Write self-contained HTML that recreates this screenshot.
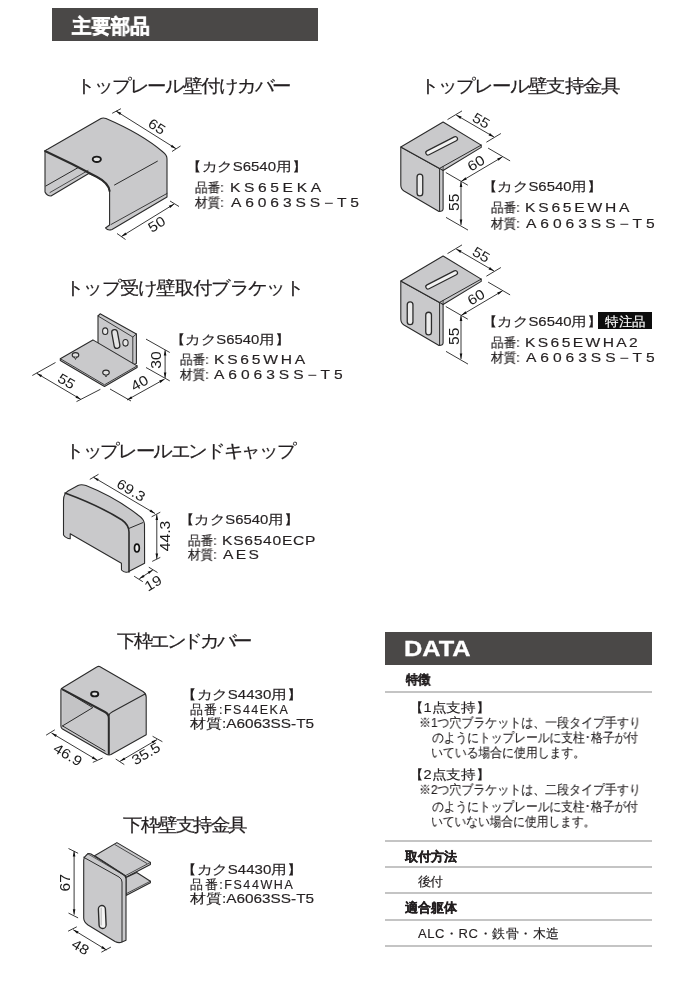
<!DOCTYPE html>
<html lang="ja">
<head>
<meta charset="utf-8">
<style>
html,body{margin:0;padding:0;background:#fff;}
body{width:690px;height:987px;position:relative;overflow:hidden;font-family:"Liberation Sans",sans-serif;color:#231f20;}
.a{position:absolute;white-space:nowrap;line-height:1;}
.bar{position:absolute;background:#4a4847;}
.ttl{font-size:17.5px;color:#231f20;}
.sp{font-size:13px;}
.ls{letter-spacing:3.2px;}
.hr{position:absolute;left:385px;width:267px;height:2px;background:#c4c4c4;}
svg{position:absolute;left:0;top:0;}
.a,svg{will-change:transform;}
svg text{font-family:"Liberation Sans",sans-serif;}
</style>
</head>
<body>
<div class="bar" style="left:52px;top:8px;width:266px;height:33px;"></div>
<div class="bar" style="left:385px;top:632px;width:267px;height:33px;"></div>
<div class="bar" style="left:598px;top:312px;width:54px;height:17px;background:#0d0d0d;"></div>
<div class="hr" style="top:691px;"></div>
<div class="hr" style="top:839.5px;"></div>
<div class="hr" style="top:865.7px;"></div>
<div class="hr" style="top:892.2px;"></div>
<div class="hr" style="top:918.6px;"></div>
<div class="hr" style="top:945px;"></div>
<div class="a" style="left:71.5px;top:16.4px;font-size:20px;font-weight:bold;color:#fff;letter-spacing:0.00px;transform:scaleX(0.9725);transform-origin:0 0;-webkit-text-stroke:0.6px #fff;">主要部品</div>
<div class="a" style="left:75.7px;top:78.2px;font-size:17.5px;font-weight:normal;color:#231f20;letter-spacing:-1.47px;transform:scaleX(1.0800);transform-origin:0 0;-webkit-text-stroke:0.2px #231f20;">トップレール壁付けカバー</div>
<div class="a" style="left:420.2px;top:78.2px;font-size:17.5px;font-weight:normal;color:#231f20;letter-spacing:-1.27px;transform:scaleX(1.0800);transform-origin:0 0;-webkit-text-stroke:0.2px #231f20;">トップレール壁支持金具</div>
<div class="a" style="left:65.0px;top:279.5px;font-size:17.5px;font-weight:normal;color:#231f20;letter-spacing:-1.06px;transform:scaleX(1.0800);transform-origin:0 0;-webkit-text-stroke:0.2px #231f20;">トップ受け壁取付ブラケット</div>
<div class="a" style="left:65.0px;top:442.6px;font-size:17.5px;font-weight:normal;color:#231f20;letter-spacing:-1.68px;transform:scaleX(1.0800);transform-origin:0 0;-webkit-text-stroke:0.2px #231f20;">トップレールエンドキャップ</div>
<div class="a" style="left:116.5px;top:632.6px;font-size:17.5px;font-weight:normal;color:#231f20;letter-spacing:-2.64px;transform:scaleX(1.0800);transform-origin:0 0;-webkit-text-stroke:0.2px #231f20;">下枠エンドカバー</div>
<div class="a" style="left:122.6px;top:817.0px;font-size:17.5px;font-weight:normal;color:#231f20;letter-spacing:-1.73px;transform:scaleX(1.0800);transform-origin:0 0;-webkit-text-stroke:0.2px #231f20;">下枠壁支持金具</div>
<div class="a" style="left:185.8px;top:160.9px;font-size:12.5px;font-weight:normal;color:#231f20;letter-spacing:0.00px;transform:scaleX(1.1976);transform-origin:0 0;-webkit-text-stroke:0.15px #231f20;">【カクS6540用】</div>
<div class="a" style="left:195.4px;top:181.8px;font-size:12.5px;font-weight:normal;color:#231f20;letter-spacing:0.00px;transform:scaleX(0.9724);transform-origin:0 0;-webkit-text-stroke:0.2px #231f20;">品番:</div>
<div class="a" style="left:230.1px;top:181.8px;font-size:12px;font-weight:normal;color:#231f20;letter-spacing:2.78px;transform:scaleX(1.3000);transform-origin:0 0;-webkit-text-stroke:0.15px #231f20;">KS65EKA</div>
<div class="a" style="left:195.4px;top:196.7px;font-size:12.5px;font-weight:normal;color:#231f20;letter-spacing:0.00px;transform:scaleX(0.9724);transform-origin:0 0;-webkit-text-stroke:0.2px #231f20;">材質:</div>
<div class="a" style="left:230.7px;top:196.7px;font-size:12px;font-weight:normal;color:#231f20;letter-spacing:2.97px;transform:scaleX(1.3000);transform-origin:0 0;-webkit-text-stroke:0.15px #231f20;">A6063SS−T5</div>
<div class="a" style="left:481.5px;top:181.4px;font-size:12.5px;font-weight:normal;color:#231f20;letter-spacing:0.00px;transform:scaleX(1.1906);transform-origin:0 0;-webkit-text-stroke:0.15px #231f20;">【カクS6540用】</div>
<div class="a" style="left:491.0px;top:202.3px;font-size:12.5px;font-weight:normal;color:#231f20;letter-spacing:0.00px;transform:scaleX(0.9724);transform-origin:0 0;-webkit-text-stroke:0.2px #231f20;">品番:</div>
<div class="a" style="left:525.1px;top:202.3px;font-size:12px;font-weight:normal;color:#231f20;letter-spacing:2.15px;transform:scaleX(1.3000);transform-origin:0 0;-webkit-text-stroke:0.15px #231f20;">KS65EWHA</div>
<div class="a" style="left:491.0px;top:218.0px;font-size:12.5px;font-weight:normal;color:#231f20;letter-spacing:0.00px;transform:scaleX(0.9724);transform-origin:0 0;-webkit-text-stroke:0.2px #231f20;">材質:</div>
<div class="a" style="left:525.7px;top:218.0px;font-size:12px;font-weight:normal;color:#231f20;letter-spacing:3.03px;transform:scaleX(1.3000);transform-origin:0 0;-webkit-text-stroke:0.15px #231f20;">A6063SS−T5</div>
<div class="a" style="left:481.5px;top:316.4px;font-size:12.5px;font-weight:normal;color:#231f20;letter-spacing:0.00px;transform:scaleX(1.1906);transform-origin:0 0;-webkit-text-stroke:0.15px #231f20;">【カクS6540用】</div>
<div class="a" style="left:605.1px;top:315.6px;font-size:12.5px;font-weight:normal;color:#fff;letter-spacing:0.00px;transform:scaleX(1.0395);transform-origin:0 0;-webkit-text-stroke:0.15px #fff;">特注品</div>
<div class="a" style="left:491.0px;top:336.8px;font-size:12.5px;font-weight:normal;color:#231f20;letter-spacing:0.00px;transform:scaleX(0.9724);transform-origin:0 0;-webkit-text-stroke:0.2px #231f20;">品番:</div>
<div class="a" style="left:525.1px;top:336.8px;font-size:12px;font-weight:normal;color:#231f20;letter-spacing:1.84px;transform:scaleX(1.3000);transform-origin:0 0;-webkit-text-stroke:0.15px #231f20;">KS65EWHA2</div>
<div class="a" style="left:491.0px;top:352.4px;font-size:12.5px;font-weight:normal;color:#231f20;letter-spacing:0.00px;transform:scaleX(0.9724);transform-origin:0 0;-webkit-text-stroke:0.2px #231f20;">材質:</div>
<div class="a" style="left:525.7px;top:352.4px;font-size:12px;font-weight:normal;color:#231f20;letter-spacing:3.03px;transform:scaleX(1.3000);transform-origin:0 0;-webkit-text-stroke:0.15px #231f20;">A6063SS−T5</div>
<div class="a" style="left:170.4px;top:333.5px;font-size:12.5px;font-weight:normal;color:#231f20;letter-spacing:0.00px;transform:scaleX(1.1882);transform-origin:0 0;-webkit-text-stroke:0.15px #231f20;">【カクS6540用】</div>
<div class="a" style="left:179.9px;top:353.6px;font-size:12.5px;font-weight:normal;color:#231f20;letter-spacing:0.00px;transform:scaleX(0.9724);transform-origin:0 0;-webkit-text-stroke:0.2px #231f20;">品番:</div>
<div class="a" style="left:213.6px;top:353.6px;font-size:12px;font-weight:normal;color:#231f20;letter-spacing:2.14px;transform:scaleX(1.3000);transform-origin:0 0;-webkit-text-stroke:0.15px #231f20;">KS65WHA</div>
<div class="a" style="left:179.9px;top:369.3px;font-size:12.5px;font-weight:normal;color:#231f20;letter-spacing:0.00px;transform:scaleX(0.9724);transform-origin:0 0;-webkit-text-stroke:0.2px #231f20;">材質:</div>
<div class="a" style="left:214.4px;top:369.3px;font-size:12px;font-weight:normal;color:#231f20;letter-spacing:3.03px;transform:scaleX(1.3000);transform-origin:0 0;-webkit-text-stroke:0.15px #231f20;">A6063SS−T5</div>
<div class="a" style="left:178.6px;top:513.8px;font-size:12.5px;font-weight:normal;color:#231f20;letter-spacing:0.00px;transform:scaleX(1.1871);transform-origin:0 0;-webkit-text-stroke:0.15px #231f20;">【カクS6540用】</div>
<div class="a" style="left:188.1px;top:534.6px;font-size:12.5px;font-weight:normal;color:#231f20;letter-spacing:0.00px;transform:scaleX(0.9724);transform-origin:0 0;-webkit-text-stroke:0.2px #231f20;">品番:</div>
<div class="a" style="left:221.6px;top:534.6px;font-size:12px;font-weight:normal;color:#231f20;letter-spacing:0.56px;transform:scaleX(1.3000);transform-origin:0 0;-webkit-text-stroke:0.15px #231f20;">KS6540ECP</div>
<div class="a" style="left:188.1px;top:548.5px;font-size:12.5px;font-weight:normal;color:#231f20;letter-spacing:0.00px;transform:scaleX(0.9724);transform-origin:0 0;-webkit-text-stroke:0.2px #231f20;">材質:</div>
<div class="a" style="left:222.9px;top:548.5px;font-size:12px;font-weight:normal;color:#231f20;letter-spacing:1.81px;transform:scaleX(1.3000);transform-origin:0 0;-webkit-text-stroke:0.15px #231f20;">AES</div>
<div class="a" style="left:180.8px;top:688.8px;font-size:12.5px;font-weight:normal;color:#231f20;letter-spacing:0.00px;transform:scaleX(1.2012);transform-origin:0 0;-webkit-text-stroke:0.15px #231f20;">【カクS4430用】</div>
<div class="a" style="left:190.4px;top:703.8px;font-size:12.5px;font-weight:normal;color:#231f20;letter-spacing:1.49px;-webkit-text-stroke:0.15px #231f20;">品番:FS44EKA</div>
<div class="a" style="left:190.4px;top:717.7px;font-size:12.5px;font-weight:normal;color:#231f20;letter-spacing:0.00px;transform:scaleX(1.2287);transform-origin:0 0;-webkit-text-stroke:0.15px #231f20;">材質:A6063SS-T5</div>
<div class="a" style="left:180.8px;top:863.8px;font-size:12.5px;font-weight:normal;color:#231f20;letter-spacing:0.00px;transform:scaleX(1.2012);transform-origin:0 0;-webkit-text-stroke:0.15px #231f20;">【カクS4430用】</div>
<div class="a" style="left:190.4px;top:878.8px;font-size:12.5px;font-weight:normal;color:#231f20;letter-spacing:1.58px;-webkit-text-stroke:0.15px #231f20;">品番:FS44WHA</div>
<div class="a" style="left:190.4px;top:892.7px;font-size:12.5px;font-weight:normal;color:#231f20;letter-spacing:0.00px;transform:scaleX(1.2287);transform-origin:0 0;-webkit-text-stroke:0.15px #231f20;">材質:A6063SS-T5</div>
<div class="a" style="left:404.2px;top:637.9px;font-size:22px;font-weight:bold;color:#fff;letter-spacing:0.00px;transform:scaleX(1.1526);transform-origin:0 0;-webkit-text-stroke:0.3px #fff;">DATA</div>
<div class="a" style="left:406.0px;top:672.8px;font-size:13px;font-weight:bold;color:#231f20;letter-spacing:0.00px;transform:scaleX(0.9407);transform-origin:0 0;-webkit-text-stroke:0.3px #231f20;">特徴</div>
<div class="a" style="left:409.1px;top:700.5px;font-size:13px;font-weight:normal;color:#231f20;letter-spacing:0.00px;transform:scaleX(1.1232);transform-origin:0 0;-webkit-text-stroke:0.15px #231f20;">【1点支持】</div>
<div class="a" style="left:418.9px;top:715.6px;font-size:13px;font-weight:normal;color:#231f20;letter-spacing:0.00px;transform:scaleX(0.9212);transform-origin:0 0;-webkit-text-stroke:0.15px #231f20;">※1つ穴ブラケットは、一段タイプ手すり</div>
<div class="a" style="left:432.0px;top:730.7px;font-size:13px;font-weight:normal;color:#231f20;letter-spacing:0.00px;transform:scaleX(0.9039);transform-origin:0 0;-webkit-text-stroke:0.15px #231f20;">のようにトップレールに支柱･格子が付</div>
<div class="a" style="left:431.1px;top:745.8px;font-size:13px;font-weight:normal;color:#231f20;letter-spacing:0.00px;transform:scaleX(0.9119);transform-origin:0 0;-webkit-text-stroke:0.15px #231f20;">いている場合に使用します。</div>
<div class="a" style="left:409.1px;top:767.5px;font-size:13px;font-weight:normal;color:#231f20;letter-spacing:0.00px;transform:scaleX(1.1232);transform-origin:0 0;-webkit-text-stroke:0.15px #231f20;">【2点支持】</div>
<div class="a" style="left:418.9px;top:783.4px;font-size:13px;font-weight:normal;color:#231f20;letter-spacing:0.00px;transform:scaleX(0.9208);transform-origin:0 0;-webkit-text-stroke:0.15px #231f20;">※2つ穴ブラケットは、二段タイプ手すり</div>
<div class="a" style="left:432.0px;top:799.6px;font-size:13px;font-weight:normal;color:#231f20;letter-spacing:0.00px;transform:scaleX(0.9035);transform-origin:0 0;-webkit-text-stroke:0.15px #231f20;">のようにトップレールに支柱･格子が付</div>
<div class="a" style="left:431.1px;top:814.6px;font-size:13px;font-weight:normal;color:#231f20;letter-spacing:0.00px;transform:scaleX(0.9029);transform-origin:0 0;-webkit-text-stroke:0.15px #231f20;">いていない場合に使用します。</div>
<div class="a" style="left:404.9px;top:849.5px;font-size:13px;font-weight:bold;color:#231f20;letter-spacing:0.00px;transform:scaleX(1.0019);transform-origin:0 0;-webkit-text-stroke:0.3px #231f20;">取付方法</div>
<div class="a" style="left:418.4px;top:875.9px;font-size:12.5px;font-weight:normal;color:#231f20;letter-spacing:-1.40px;-webkit-text-stroke:0.15px #231f20;">後付</div>
<div class="a" style="left:404.9px;top:901.0px;font-size:13px;font-weight:bold;color:#231f20;letter-spacing:0.00px;transform:scaleX(1.0019);transform-origin:0 0;-webkit-text-stroke:0.3px #231f20;">適合躯体</div>
<div class="a" style="left:418.4px;top:927.4px;font-size:13px;font-weight:normal;color:#231f20;letter-spacing:0.58px;-webkit-text-stroke:0.15px #231f20;">ALC・RC・鉄骨・木造</div>

<svg width="690" height="987" viewBox="0 0 690 987">
<path d="M45,152 Q45,150 48,149 L101,118.5 Q103,117.5 106,118.5 Q142,134 163,152 Q167,155 167,159 L167,194 L167,197 L112,229.5 Q108,231 105.5,228 L109.6,225 L109.6,191 Q108.5,183 97,177 L88.7,173.5 L51,196 Q47,196 45,192 Z" fill="#c9c9cb" stroke="#2b2b2b" stroke-width="1.1" stroke-linejoin="round"/>
<path d="M45,151 Q72,163.5 97,177 Q108.5,183 109.6,191" fill="none" stroke="#2b2b2b" stroke-width="2.0" stroke-linecap="round" stroke-linejoin="round"/>
<path d="M45.8,186 L78.3,167.5" fill="none" stroke="#2b2b2b" stroke-width="1.0" stroke-linecap="round" stroke-linejoin="round"/>
<path d="M50,192.5 L88,170.5" fill="none" stroke="#2b2b2b" stroke-width="0.8" stroke-linecap="round" stroke-linejoin="round"/>
<path d="M114.5,185 L157.4,161.2" fill="none" stroke="#2b2b2b" stroke-width="1.0" stroke-linecap="round" stroke-linejoin="round"/>
<path d="M111,224.5 L167,193.5" fill="none" stroke="#2b2b2b" stroke-width="0.9" stroke-linecap="round" stroke-linejoin="round"/>
<ellipse cx="96.8" cy="159.3" rx="4.1" ry="2.7" fill="#e6e6e6" stroke="#1a1a1a" stroke-width="1.9"/>
<line x1="116" y1="111" x2="176" y2="148.7" stroke="#222" stroke-width="0.9"/>
<path d="M116.0,111.0 L121.3,112.8 L120.0,115.0 Z" fill="#111"/>
<path d="M176.0,148.7 L170.7,146.9 L172.0,144.7 Z" fill="#111"/>
<line x1="112.2" y1="113.3" x2="120.9" y2="108.7" stroke="#222" stroke-width="0.9"/>
<line x1="172" y1="151.5" x2="180.5" y2="146" stroke="#222" stroke-width="0.9"/>
<text x="0" y="0" transform="translate(156.8 126.7) rotate(32.1) scale(1.12 1)" font-size="14" text-anchor="middle" dominant-baseline="central" fill="#1a1a1a">65</text>
<line x1="121.4" y1="236.5" x2="174.2" y2="204" stroke="#222" stroke-width="0.9"/>
<path d="M121.4,236.5 L125.4,232.5 L126.8,234.7 Z" fill="#111"/>
<path d="M174.2,204.0 L170.2,208.0 L168.8,205.8 Z" fill="#111"/>
<line x1="117" y1="233.5" x2="125.5" y2="239.5" stroke="#222" stroke-width="0.9"/>
<line x1="170" y1="201" x2="179" y2="206.5" stroke="#222" stroke-width="0.9"/>
<text x="0" y="0" transform="translate(156.8 224.3) rotate(-31.6) scale(1.12 1)" font-size="14" text-anchor="middle" dominant-baseline="central" fill="#1a1a1a">50</text>
<path d="M400.8,147 L439.6,168.4 L443.1,166.5 L443.1,209 Q443,211.5 439,211.5 L404,191 Q400.8,189 400.8,185 Z" fill="#c9c9cb" stroke="#2b2b2b" stroke-width="1.1" stroke-linejoin="round"/>
<path d="M439.6,168.4 L439.6,211" fill="none" stroke="#2b2b2b" stroke-width="1.0" stroke-linecap="round" stroke-linejoin="round"/>
<path d="M400.8,147 L443.1,122 L481.2,145.1 L481.2,147.4 L443.1,170.5 L439.6,168.4 Z" fill="#c9c9cb" stroke="#2b2b2b" stroke-width="1.1" stroke-linejoin="round"/>
<path d="M439.6,168.4 L481.2,145.1" fill="none" stroke="#2b2b2b" stroke-width="1.0" stroke-linecap="round" stroke-linejoin="round"/>
<path d="M443.1,170.5 L443.1,166.5" fill="none" stroke="#2b2b2b" stroke-width="0.8" stroke-linecap="round" stroke-linejoin="round"/>
<path d="M428,152.8 L455.3,138.8" stroke="#2b2b2b" stroke-width="5.6" stroke-linecap="round"/>
<path d="M428,152.8 L455.3,138.8" stroke="#f2f2f2" stroke-width="3.2" stroke-linecap="round"/>
<path d="M419.9,177 L419.9,193" stroke="#2b2b2b" stroke-width="7" stroke-linecap="round"/>
<path d="M419.9,177 L419.9,193" stroke="#ececec" stroke-width="4.4" stroke-linecap="round"/>
<line x1="456.2" y1="115" x2="494" y2="137" stroke="#222" stroke-width="0.9"/>
<path d="M456.2,115.0 L461.6,116.6 L460.3,118.9 Z" fill="#111"/>
<path d="M494.0,137.0 L488.6,135.4 L489.9,133.1 Z" fill="#111"/>
<line x1="447.5" y1="119.6" x2="462" y2="110.9" stroke="#222" stroke-width="0.9"/>
<line x1="486.4" y1="142.2" x2="500.9" y2="133.5" stroke="#222" stroke-width="0.9"/>
<text x="0" y="0" transform="translate(481.2 120.7) rotate(30.2) scale(1.12 1)" font-size="14" text-anchor="middle" dominant-baseline="central" fill="#1a1a1a">55</text>
<line x1="461.4" y1="181.2" x2="502.6" y2="156.8" stroke="#222" stroke-width="0.9"/>
<path d="M461.4,181.2 L465.5,177.3 L466.8,179.5 Z" fill="#111"/>
<path d="M502.6,156.8 L498.5,160.7 L497.2,158.5 Z" fill="#111"/>
<line x1="488.1" y1="148.1" x2="510.1" y2="160.9" stroke="#222" stroke-width="0.9"/>
<line x1="445.8" y1="172.5" x2="467.8" y2="185.2" stroke="#222" stroke-width="0.9"/>
<text x="0" y="0" transform="translate(476 163.2) rotate(-30.6) scale(1.12 1)" font-size="14" text-anchor="middle" dominant-baseline="central" fill="#1a1a1a">60</text>
<line x1="461" y1="181.4" x2="461" y2="225" stroke="#222" stroke-width="0.9"/>
<path d="M461.0,181.4 L462.3,186.9 L459.7,186.9 Z" fill="#111"/>
<path d="M461.0,225.0 L459.7,219.5 L462.3,219.5 Z" fill="#111"/>
<line x1="446" y1="217.4" x2="468" y2="230.1" stroke="#222" stroke-width="0.9"/>
<text x="0" y="0" transform="translate(454.1 202.3) rotate(-90) scale(1.12 1)" font-size="14" text-anchor="middle" dominant-baseline="central" fill="#1a1a1a">55</text>
<path d="M400.8,281 L439.6,302.4 L443.1,300.5 L443.1,343 Q443,345.5 439,345.5 L404,325 Q400.8,323 400.8,319 Z" fill="#c9c9cb" stroke="#2b2b2b" stroke-width="1.1" stroke-linejoin="round"/>
<path d="M439.6,302.4 L439.6,345" fill="none" stroke="#2b2b2b" stroke-width="1.0" stroke-linecap="round" stroke-linejoin="round"/>
<path d="M400.8,281 L443.1,256 L481.2,279.1 L481.2,281.4 L443.1,304.5 L439.6,302.4 Z" fill="#c9c9cb" stroke="#2b2b2b" stroke-width="1.1" stroke-linejoin="round"/>
<path d="M439.6,302.4 L481.2,279.1" fill="none" stroke="#2b2b2b" stroke-width="1.0" stroke-linecap="round" stroke-linejoin="round"/>
<path d="M443.1,304.5 L443.1,300.5" fill="none" stroke="#2b2b2b" stroke-width="0.8" stroke-linecap="round" stroke-linejoin="round"/>
<path d="M428,286.8 L455.3,272.8" stroke="#2b2b2b" stroke-width="5.6" stroke-linecap="round"/>
<path d="M428,286.8 L455.3,272.8" stroke="#f2f2f2" stroke-width="3.2" stroke-linecap="round"/>
<path d="M410.1,304.7 L410.1,321.7" stroke="#2b2b2b" stroke-width="7" stroke-linecap="round"/>
<path d="M410.1,304.7 L410.1,321.7" stroke="#ececec" stroke-width="4.4" stroke-linecap="round"/>
<path d="M428.6,315.1 L428.6,332.1" stroke="#2b2b2b" stroke-width="7" stroke-linecap="round"/>
<path d="M428.6,315.1 L428.6,332.1" stroke="#ececec" stroke-width="4.4" stroke-linecap="round"/>
<line x1="456.2" y1="249" x2="494" y2="271" stroke="#222" stroke-width="0.9"/>
<path d="M456.2,249.0 L461.6,250.6 L460.3,252.9 Z" fill="#111"/>
<path d="M494.0,271.0 L488.6,269.4 L489.9,267.1 Z" fill="#111"/>
<line x1="447.5" y1="253.6" x2="462" y2="244.9" stroke="#222" stroke-width="0.9"/>
<line x1="486.4" y1="276.2" x2="500.9" y2="267.5" stroke="#222" stroke-width="0.9"/>
<text x="0" y="0" transform="translate(481.2 254.7) rotate(30.2) scale(1.12 1)" font-size="14" text-anchor="middle" dominant-baseline="central" fill="#1a1a1a">55</text>
<line x1="461.4" y1="315.2" x2="502.6" y2="290.8" stroke="#222" stroke-width="0.9"/>
<path d="M461.4,315.2 L465.5,311.3 L466.8,313.5 Z" fill="#111"/>
<path d="M502.6,290.8 L498.5,294.7 L497.2,292.5 Z" fill="#111"/>
<line x1="488.1" y1="282.1" x2="510.1" y2="294.9" stroke="#222" stroke-width="0.9"/>
<line x1="445.8" y1="306.5" x2="467.8" y2="319.2" stroke="#222" stroke-width="0.9"/>
<text x="0" y="0" transform="translate(476 297.2) rotate(-30.6) scale(1.12 1)" font-size="14" text-anchor="middle" dominant-baseline="central" fill="#1a1a1a">60</text>
<line x1="461" y1="315.4" x2="461" y2="359" stroke="#222" stroke-width="0.9"/>
<path d="M461.0,315.4 L462.3,320.9 L459.7,320.9 Z" fill="#111"/>
<path d="M461.0,359.0 L459.7,353.5 L462.3,353.5 Z" fill="#111"/>
<line x1="446" y1="351.4" x2="468" y2="364.1" stroke="#222" stroke-width="0.9"/>
<text x="0" y="0" transform="translate(454.1 336.3) rotate(-90) scale(1.12 1)" font-size="14" text-anchor="middle" dominant-baseline="central" fill="#1a1a1a">55</text>
<path d="M98,316 L100.1,313.8 L136.4,334 L136.4,363.5 L132.8,365 L98,345 Z" fill="#c9c9cb" stroke="#2b2b2b" stroke-width="1.1" stroke-linejoin="round"/>
<path d="M98,316 L132.8,337 L136.4,334" fill="none" stroke="#2b2b2b" stroke-width="0.9" stroke-linecap="round" stroke-linejoin="round"/>
<path d="M132.8,337 L132.8,365" fill="none" stroke="#2b2b2b" stroke-width="0.9" stroke-linecap="round" stroke-linejoin="round"/>
<ellipse cx="105.2" cy="331.2" rx="2.6" ry="3.3" fill="#e8e8e8" stroke="#2b2b2b" stroke-width="1.1"/>
<ellipse cx="125.5" cy="342.8" rx="2.6" ry="3.3" fill="#e8e8e8" stroke="#2b2b2b" stroke-width="1.1"/>
<path d="M114.6,332.5 L117,345.5" stroke="#2b2b2b" stroke-width="7" stroke-linecap="round"/>
<path d="M114.6,332.5 L117,345.5" stroke="#e4e4e4" stroke-width="4.4" stroke-linecap="round"/>
<path d="M60.3,358.7 L92.9,339.9 L137.1,365.9 L137.1,367.5 L104.5,386.5 L60.3,360.5 Z" fill="#c9c9cb" stroke="#2b2b2b" stroke-width="1.1" stroke-linejoin="round"/>
<path d="M60.3,358.7 L104.5,384.8 L137.1,365.9" fill="none" stroke="#2b2b2b" stroke-width="0.9" stroke-linecap="round" stroke-linejoin="round"/>
<ellipse cx="75.5" cy="355" rx="3.3" ry="2.4" fill="#e0e0e0" stroke="#2b2b2b" stroke-width="1.1"/>
<path d="M74.0,356.5 L75.5,359.5 L77.0,356.5" fill="#999" stroke="#2b2b2b" stroke-width="0.8"/>
<ellipse cx="106" cy="372.5" rx="3.3" ry="2.4" fill="#e0e0e0" stroke="#2b2b2b" stroke-width="1.1"/>
<path d="M104.5,374.0 L106,377.0 L107.5,374.0" fill="#999" stroke="#2b2b2b" stroke-width="0.8"/>
<line x1="36.7" y1="373.3" x2="80.9" y2="399.4" stroke="#222" stroke-width="0.9"/>
<path d="M36.7,373.3 L42.1,375.0 L40.8,377.2 Z" fill="#111"/>
<path d="M80.9,399.4 L75.5,397.7 L76.8,395.5 Z" fill="#111"/>
<line x1="32.3" y1="375.5" x2="55.5" y2="362.5" stroke="#222" stroke-width="0.9"/>
<line x1="76.5" y1="401.6" x2="100.4" y2="389.3" stroke="#222" stroke-width="0.9"/>
<text x="0" y="0" transform="translate(66.4 381.3) rotate(30.6) scale(1.12 1)" font-size="14" text-anchor="middle" dominant-baseline="central" fill="#1a1a1a">55</text>
<line x1="165.1" y1="350.1" x2="165.1" y2="378" stroke="#222" stroke-width="0.9"/>
<path d="M165.1,350.1 L166.4,355.6 L163.8,355.6 Z" fill="#111"/>
<path d="M165.1,378.0 L163.8,372.5 L166.4,372.5 Z" fill="#111"/>
<line x1="146" y1="339.1" x2="169.8" y2="352.5" stroke="#222" stroke-width="0.9"/>
<line x1="146" y1="367.5" x2="169.8" y2="380.9" stroke="#222" stroke-width="0.9"/>
<text x="0" y="0" transform="translate(156.4 360) rotate(-90) scale(1.12 1)" font-size="14" text-anchor="middle" dominant-baseline="central" fill="#1a1a1a">30</text>
<line x1="164.6" y1="379.1" x2="127" y2="400" stroke="#222" stroke-width="0.9"/>
<path d="M164.6,379.1 L160.4,382.9 L159.2,380.6 Z" fill="#111"/>
<path d="M127.0,400.0 L131.2,396.2 L132.4,398.5 Z" fill="#111"/>
<line x1="110" y1="389" x2="131" y2="401" stroke="#222" stroke-width="0.9"/>
<text x="0" y="0" transform="translate(139.6 383.2) rotate(-29.6) scale(1.12 1)" font-size="14" text-anchor="middle" dominant-baseline="central" fill="#1a1a1a">40</text>
<path d="M63.5,500 Q63.5,494 68,491 L78,485.5 Q81,484 86,485.5 Q115,497 138,515 Q144,519 144.5,524 L144.6,563.2 L127.8,572 Q124,573 121.5,570 L121.4,563.2 L70.2,533.8 L70.2,538.8 Q66,538.5 63.5,535 Z" fill="#c9c9cb" stroke="#2b2b2b" stroke-width="1.1" stroke-linejoin="round"/>
<path d="M65,493 Q100,506 122,520 Q129,525 129,532 L129,572" fill="none" stroke="#2b2b2b" stroke-width="1.6" stroke-linecap="round" stroke-linejoin="round"/>
<path d="M129,528.4 L142.9,522.6" fill="none" stroke="#2b2b2b" stroke-width="1.0" stroke-linecap="round" stroke-linejoin="round"/>
<ellipse cx="136.9" cy="548.1" rx="2.4" ry="3.9" fill="#eee" stroke="#111" stroke-width="1.7"/>
<line x1="93.4" y1="477.2" x2="155" y2="513.5" stroke="#222" stroke-width="0.9"/>
<path d="M93.4,477.2 L98.8,478.9 L97.5,481.1 Z" fill="#111"/>
<path d="M155.0,513.5 L149.6,511.8 L150.9,509.6 Z" fill="#111"/>
<line x1="89.8" y1="479.4" x2="98.5" y2="474.3" stroke="#222" stroke-width="0.9"/>
<line x1="151.6" y1="516.8" x2="160.3" y2="512.2" stroke="#222" stroke-width="0.9"/>
<text x="0" y="0" transform="translate(131 490.3) rotate(30.5) scale(1.12 1)" font-size="14" text-anchor="middle" dominant-baseline="central" fill="#1a1a1a">69.3</text>
<line x1="156.8" y1="514.5" x2="156.8" y2="559.1" stroke="#222" stroke-width="0.9"/>
<path d="M156.8,514.5 L158.1,520.0 L155.5,520.0 Z" fill="#111"/>
<path d="M156.8,559.1 L155.5,553.6 L158.1,553.6 Z" fill="#111"/>
<line x1="152.2" y1="561.4" x2="160.3" y2="557.4" stroke="#222" stroke-width="0.9"/>
<text x="0" y="0" transform="translate(164.9 536) rotate(-90) scale(1.12 1)" font-size="14" text-anchor="middle" dominant-baseline="central" fill="#1a1a1a">44.3</text>
<line x1="139.3" y1="578.8" x2="152.9" y2="569.9" stroke="#222" stroke-width="0.9"/>
<path d="M139.3,578.8 L143.2,574.7 L144.6,576.9 Z" fill="#111"/>
<path d="M152.9,569.9 L149.0,574.0 L147.6,571.8 Z" fill="#111"/>
<line x1="134.1" y1="576.2" x2="142.8" y2="581.7" stroke="#222" stroke-width="0.9"/>
<line x1="148.8" y1="567.2" x2="157.5" y2="572.5" stroke="#222" stroke-width="0.9"/>
<text x="0" y="0" transform="translate(153.2 583.2) rotate(-30) scale(1.12 1)" font-size="14" text-anchor="middle" dominant-baseline="central" fill="#1a1a1a">19</text>
<path d="M60.9,690 Q60.9,688.5 63,687.5 L97.2,666.8 Q98.4,666 99.6,666.6 L143,691.5 Q146.2,693.5 146.2,697 L146.2,734.7 L111,754.5 Q108.8,755.5 106,754 L62.5,729 Q60.9,728 60.9,726 Z" fill="#c9c9cb" stroke="#2b2b2b" stroke-width="1.1" stroke-linejoin="round"/>
<path d="M63,691 L92.8,707.6 L92.8,708 L63,725.5 Z" fill="#c3c3c5"/>
<path d="M62.5,689.3 L105,712 Q108.8,714 108.8,718 L108.8,753.8" fill="none" stroke="#2b2b2b" stroke-width="2.0" stroke-linecap="round" stroke-linejoin="round"/>
<path d="M108.8,716 Q109,713.5 112,712 L145,694" fill="none" stroke="#2b2b2b" stroke-width="1.1" stroke-linecap="round" stroke-linejoin="round"/>
<path d="M62.5,689.3 L92.8,707.6 L62.5,725.9" fill="none" stroke="#2b2b2b" stroke-width="1.0" stroke-linecap="round" stroke-linejoin="round"/>
<path d="M62.5,725.9 L105,751" fill="none" stroke="#2b2b2b" stroke-width="1.0" stroke-linecap="round" stroke-linejoin="round"/>
<ellipse cx="94.7" cy="694" rx="3.6" ry="2.4" fill="#e6e6e6" stroke="#1a1a1a" stroke-width="1.9"/>
<line x1="51.5" y1="733" x2="97.2" y2="760.2" stroke="#222" stroke-width="0.9"/>
<path d="M51.5,733.0 L56.9,734.7 L55.6,736.9 Z" fill="#111"/>
<path d="M97.2,760.2 L91.8,758.5 L93.1,756.3 Z" fill="#111"/>
<line x1="46.1" y1="735.2" x2="54.8" y2="729.8" stroke="#222" stroke-width="0.9"/>
<line x1="92.8" y1="762.4" x2="102.6" y2="758" stroke="#222" stroke-width="0.9"/>
<text x="0" y="0" transform="translate(67.8 754.8) rotate(30.8) scale(1.12 1)" font-size="14" text-anchor="middle" dominant-baseline="central" fill="#1a1a1a">46.9</text>
<line x1="120" y1="761.3" x2="157" y2="739.6" stroke="#222" stroke-width="0.9"/>
<path d="M120.0,761.3 L124.1,757.4 L125.4,759.6 Z" fill="#111"/>
<path d="M157.0,739.6 L152.9,743.5 L151.6,741.3 Z" fill="#111"/>
<line x1="115.7" y1="759" x2="124.3" y2="764.6" stroke="#222" stroke-width="0.9"/>
<line x1="152.6" y1="736.3" x2="162.4" y2="741.7" stroke="#222" stroke-width="0.9"/>
<text x="0" y="0" transform="translate(146 753.7) rotate(-30.4) scale(1.12 1)" font-size="14" text-anchor="middle" dominant-baseline="central" fill="#1a1a1a">35.5</text>
<path d="M94.6,855.8 L116.9,842.6 L150.4,862.4 L150.4,864.4 L125.5,877.6 L125.5,875.6 Z" fill="#c9c9cb" stroke="#2b2b2b" stroke-width="1.1" stroke-linejoin="round"/>
<path d="M114.9,844.6 L146.8,863.4" fill="none" stroke="#2b2b2b" stroke-width="0.8" stroke-linecap="round" stroke-linejoin="round"/>
<path d="M125.5,875.6 L150.4,862.4" fill="none" stroke="#2b2b2b" stroke-width="0.8" stroke-linecap="round" stroke-linejoin="round"/>
<path d="M126,877.6 L136.7,872.5 L150.4,881.2 L150.4,882.8 L126,895.4 Z" fill="#c9c9cb" stroke="#2b2b2b" stroke-width="1.1" stroke-linejoin="round"/>
<path d="M126,893.8 L150.4,881.2" fill="none" stroke="#2b2b2b" stroke-width="0.8" stroke-linecap="round" stroke-linejoin="round"/>
<path d="M83.7,860 Q83.7,857 86,855.5 L87.7,853.8 Q89,853 91,854 L123,874.5 Q126,876 126,879 L126,940.2 L122,942 Q119,943.5 115,941.5 L88,925 Q83.7,922 83.7,918 Z" fill="#c9c9cb" stroke="#2b2b2b" stroke-width="1.1" stroke-linejoin="round"/>
<path d="M83.7,857.3 L119,877 Q122,878.8 122,882 L122,941.8" fill="none" stroke="#2b2b2b" stroke-width="1.0" stroke-linecap="round" stroke-linejoin="round"/>
<path d="M87.7,853.8 L123,874.5" fill="none" stroke="#2b2b2b" stroke-width="0.7" stroke-linecap="round" stroke-linejoin="round"/>
<path d="M101.9,909 L102.6,925" stroke="#2b2b2b" stroke-width="8.4" stroke-linecap="round"/>
<path d="M101.9,909 L102.6,925" stroke="#f4f4f4" stroke-width="5.6" stroke-linecap="round"/>
<path d="M101.2,908 L101.2,925" stroke="#bdbdbd" stroke-width="1.2" stroke-linecap="round"/>
<line x1="74.1" y1="850.9" x2="74.1" y2="914.7" stroke="#222" stroke-width="0.9"/>
<path d="M74.1,850.9 L75.4,856.4 L72.8,856.4 Z" fill="#111"/>
<path d="M74.1,914.7 L72.8,909.2 L75.4,909.2 Z" fill="#111"/>
<line x1="68.5" y1="848.5" x2="78.1" y2="853.3" stroke="#222" stroke-width="0.9"/>
<line x1="68.5" y1="913.1" x2="78.1" y2="917.9" stroke="#222" stroke-width="0.9"/>
<text x="0" y="0" transform="translate(65.4 882.8) rotate(-90) scale(1.12 1)" font-size="14" text-anchor="middle" dominant-baseline="central" fill="#1a1a1a">67</text>
<line x1="73.2" y1="929.7" x2="106.5" y2="950" stroke="#222" stroke-width="0.9"/>
<path d="M73.2,929.7 L78.6,931.5 L77.2,933.7 Z" fill="#111"/>
<path d="M106.5,950.0 L101.1,948.2 L102.5,946.0 Z" fill="#111"/>
<line x1="68.1" y1="931.2" x2="76.8" y2="926.8" stroke="#222" stroke-width="0.9"/>
<line x1="101.4" y1="952.2" x2="110.9" y2="947.1" stroke="#222" stroke-width="0.9"/>
<text x="0" y="0" transform="translate(80.4 947.1) rotate(30.5) scale(1.12 1)" font-size="14" text-anchor="middle" dominant-baseline="central" fill="#1a1a1a">48</text>
</svg>
</body>
</html>
